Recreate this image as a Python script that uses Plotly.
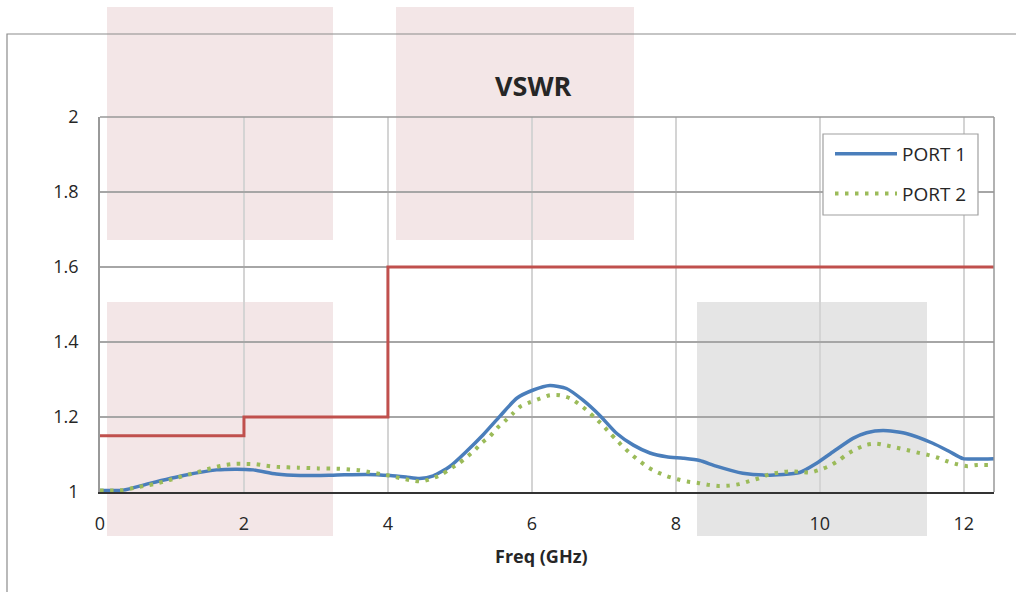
import plotly.graph_objects as go

# ---------------- data ----------------
port1_x = [0, 0.32, 0.69, 1.16, 1.62, 1.9, 2.13, 2.45, 2.78, 3.24, 3.7, 4.03, 4.25, 4.44, 4.63,
           4.86, 5.09, 5.32, 5.56, 5.79, 6.02, 6.25, 6.48, 6.71, 6.94, 7.18, 7.41, 7.64, 7.87,
           8.1, 8.33, 8.56, 8.93, 9.26, 9.72, 9.95, 10.19, 10.46, 10.65, 10.88, 11.2, 11.57,
           11.8, 11.99, 12.18, 12.42]
port1_y = [1.004, 1.005, 1.023, 1.044, 1.059, 1.061, 1.059, 1.048, 1.044, 1.045, 1.047, 1.044,
           1.040, 1.036, 1.043, 1.068, 1.108, 1.152, 1.203, 1.25, 1.272, 1.284, 1.276, 1.245,
           1.205, 1.156, 1.125, 1.104, 1.094, 1.09, 1.084, 1.069, 1.05, 1.045, 1.052, 1.076,
           1.108, 1.143, 1.158, 1.164, 1.156, 1.13, 1.108, 1.089, 1.088, 1.089]

port2_x = [0, 0.19, 0.32, 0.47, 0.61, 0.75, 0.89, 1.04, 1.18, 1.32, 1.46, 1.6, 1.74, 1.88,
           2.03, 2.17, 2.31, 2.46, 2.75, 3.03, 3.32, 3.47, 3.61, 3.75, 3.9, 4.04, 4.17, 4.33,
           4.47, 4.6, 4.75, 4.86, 4.99, 5.1, 5.21, 5.31, 5.42, 5.52, 5.63, 5.74, 5.84, 5.97,
           6.11, 6.25, 6.39, 6.53, 6.65, 6.77, 6.875, 6.98, 7.08, 7.18, 7.28, 7.39, 7.5, 7.62,
           7.75, 7.88, 8.02, 8.16, 8.31, 8.45, 8.59, 8.74, 8.88, 9.02, 9.16, 9.3, 9.44, 9.58,
           9.73, 9.87, 10.01, 10.14, 10.27, 10.38, 10.51, 10.65, 10.79, 10.93, 11.07, 11.21,
           11.36, 11.5, 11.63, 11.77, 11.91, 12.05, 12.19, 12.42]
port2_y = [1.004, 1.004, 1.005, 1.011, 1.016, 1.021, 1.028, 1.036, 1.044, 1.051, 1.059, 1.066,
           1.072, 1.075, 1.075, 1.074, 1.07, 1.067, 1.065, 1.063, 1.062, 1.06, 1.058, 1.053,
           1.048, 1.043, 1.037, 1.031, 1.028, 1.035, 1.047, 1.061, 1.077, 1.094, 1.112, 1.132,
           1.149, 1.171, 1.19, 1.21, 1.228, 1.239, 1.249, 1.258, 1.258, 1.25, 1.235, 1.217,
           1.198, 1.179, 1.158, 1.138, 1.118, 1.099, 1.082, 1.065, 1.052, 1.042, 1.034, 1.028,
           1.024, 1.019, 1.016, 1.017, 1.021, 1.029, 1.037, 1.047, 1.052, 1.055, 1.054, 1.052,
           1.06, 1.07, 1.085, 1.101, 1.115, 1.126, 1.129, 1.124, 1.118, 1.112, 1.105, 1.099,
           1.092, 1.082, 1.074, 1.069, 1.072, 1.072]

limit_x = [0, 2, 4, 12.42]
limit_y = [1.15, 1.2, 1.6, 1.6]

x_ticks = [0, 2, 4, 6, 8, 10, 12]
y_ticks = [1, 1.2, 1.4, 1.6, 1.8, 2]
y_tick_labels = ["1", "1.2", "1.4", "1.6", "1.8", "2"]

# ---------------- layout geometry (pixels) ----------------
W, H = 1016, 592
L, R, T, B = 100, 994, 117, 492
FONT = "Open Sans"
TXT = "#262626"


def px(xpix):
    return (xpix - L) / (R - L)


def py(ypix):
    return (B - ypix) / (B - T)


fig = go.Figure()

fig.add_trace(go.Scatter(x=limit_x, y=limit_y, mode="lines", line_shape="hv",
                         line=dict(color="#c0504d", width=3), showlegend=False,
                         hoverinfo="skip"))
fig.add_trace(go.Scatter(x=port1_x, y=port1_y, mode="lines", name="PORT 1",
                         line=dict(color="#4a7ebb", width=3.5, shape="spline", smoothing=0.6),
                         legendgroup="p1"))
fig.add_trace(go.Scatter(x=port2_x, y=port2_y, mode="lines", name="PORT 2",
                         line=dict(color="#9bbb59", width=4, dash="3.5px,6.5px",
                                   shape="spline", smoothing=0.6),
                         legendgroup="p2"))

shapes = []
# decorative shaded blocks
for (x0, x1, y0, y1, col) in [
    (107, 333, 7, 240, "#f3e6e7"),
    (396, 634, 7, 240, "#f3e6e7"),
    (107, 333, 302, 536, "#f3e6e7"),
    (697, 927, 302, 536, "#e5e5e5"),
]:
    shapes.append(dict(type="rect", xref="paper", yref="paper", layer="below",
                       x0=px(x0), x1=px(x1), y0=py(y1), y1=py(y0),
                       fillcolor=col, line=dict(width=0)))
# outer chart frame
shapes.append(dict(type="rect", xref="paper", yref="paper", layer="below",
                   x0=px(7), x1=px(1040), y0=py(640), y1=py(34),
                   fillcolor="rgba(0,0,0,0)", line=dict(color="#8c8c8c", width=1.2)))
# plot area top and right borders
shapes.append(dict(type="line", xref="paper", yref="paper", x0=0, x1=1, y0=1, y1=1,
                   line=dict(color="#999999", width=1.5)))
shapes.append(dict(type="line", xref="paper", yref="paper", x0=1, x1=1, y0=0, y1=1,
                   line=dict(color="#999999", width=1.5)))
# legend frame (legend itself drawn on top of it)
shapes.append(dict(type="rect", xref="paper", yref="paper", layer="above",
                   x0=px(823), x1=px(978), y0=py(215), y1=py(134),
                   fillcolor="white", line=dict(color="#a0a0a0", width=1.2)))

annotations = [
    dict(text="<b>VSWR</b>", xref="paper", yref="paper", x=px(533), y=py(85),
         xanchor="center", yanchor="middle", showarrow=False,
         font=dict(family=FONT, size=27, color=TXT)),
    dict(text="<b>Freq (GHz)</b>", xref="paper", yref="paper", x=px(541), y=py(556),
         xanchor="center", yanchor="middle", showarrow=False,
         font=dict(family=FONT, size=18, color=TXT)),
]

fig.update_layout(
    width=W, height=H,
    margin=dict(l=L, r=W - R, t=T, b=H - B, pad=0),
    paper_bgcolor="white", plot_bgcolor="rgba(0,0,0,0)",
    font=dict(family=FONT, size=18, color=TXT),
    shapes=shapes, annotations=annotations,
    showlegend=True,
    legend=dict(x=px(830), y=py(135), xanchor="left", yanchor="top",
                bgcolor="rgba(0,0,0,0)", borderwidth=0,
                font=dict(family=FONT, size=19, color=TXT),
                itemwidth=62, traceorder="grouped", tracegroupgap=12),
    xaxis=dict(range=[0, 12.42], tickvals=x_ticks, ticktext=[str(v) for v in x_ticks],
               showgrid=True, gridcolor="#d4d4d4", gridwidth=1.5,
               showline=True, linecolor="#333333", linewidth=2,
               ticks="", ticklabelstandoff=14, zeroline=False,
               tickfont=dict(family=FONT, size=18, color=TXT)),
    yaxis=dict(range=[1, 2], tickvals=y_ticks, ticktext=y_tick_labels,
               showgrid=True, gridcolor="#a6a6a6", gridwidth=1.5,
               showline=True, linecolor="#999999", linewidth=1.5,
               ticks="", ticklabelstandoff=16, zeroline=False,
               tickfont=dict(family=FONT, size=18, color=TXT)),
)

fig.write_html("out.html", config={"displayModeBar": False},
               post_script="document.body.style.margin='0px';")
